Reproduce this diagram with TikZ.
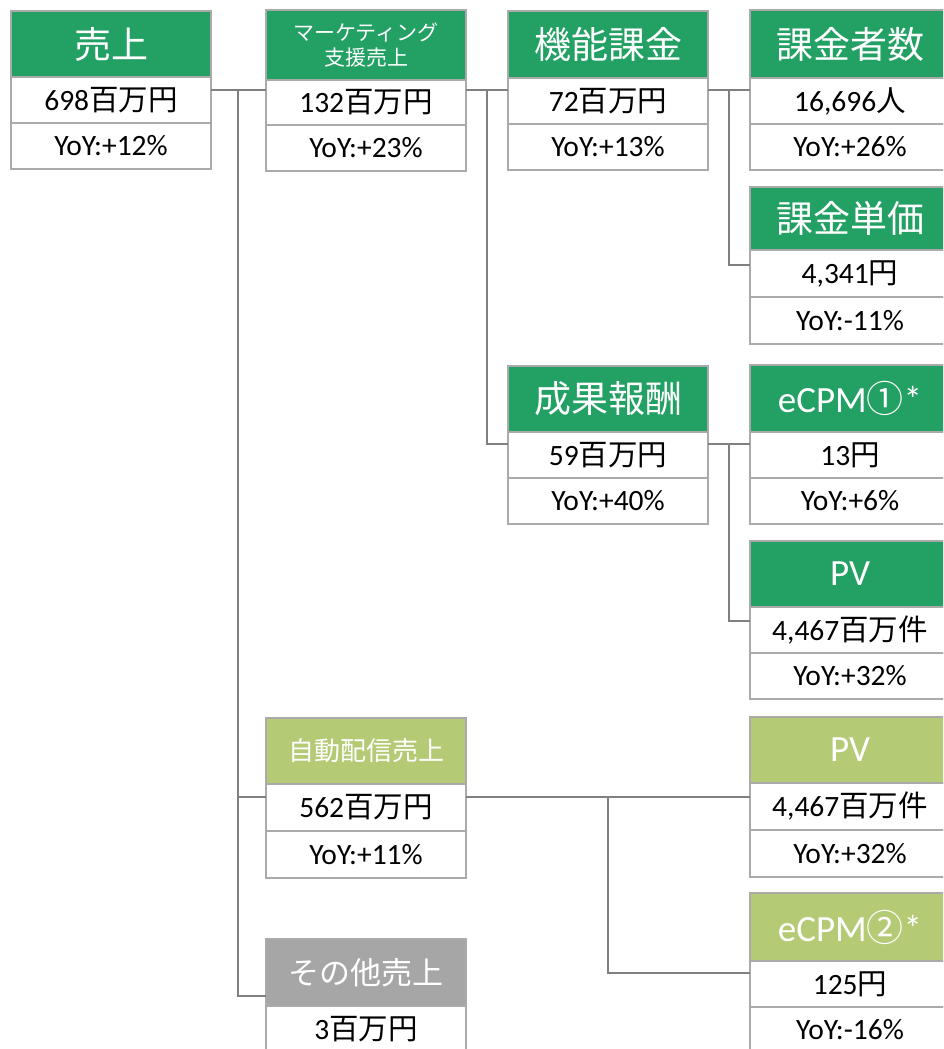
\documentclass[tikz,border=0pt]{standalone}
\usepackage{fontspec}
\setmainfont{Carlito}
\newfontfamily\cjk{Noto Sans CJK JP}
\definecolor{dkgreen}{RGB}{35,160,99}
\definecolor{ltgreen}{RGB}{181,202,117}
\definecolor{hdgray}{RGB}{166,166,166}
\definecolor{bordergray}{RGB}{170,170,170}
\definecolor{linegray}{RGB}{128,128,128}
\tikzset{
  cell/.style={draw=bordergray, line width=2.5pt, minimum width=200pt, inner sep=0pt, outer sep=0pt, anchor=north west, align=center},
  head/.style={cell, text=white, font=\fontsize{37}{40}\selectfont},
  rowcell/.style={cell, fill=white, minimum height=46pt, font=\fontsize{29.5}{31}\selectfont},
  link/.style={draw=linegray, line width=2pt},
}
\begin{document}
\begin{tikzpicture}[x=1pt,y=-1pt]
\clip (0,0) rectangle (943,1049);
\fill[white] (0,0) rectangle (943,1049);
% box 1
\node[head, fill=dkgreen, minimum height=66pt] (h1) at (11,11) {\cjk 売上};
\node[rowcell] (v1) at (h1.south west) {698{\cjk 百万円}};
\node[rowcell] (p1) at (v1.south west) {YoY:+12\%};
% box 2
\node[head, fill=dkgreen, minimum height=70pt, font=\fontsize{21}{25}\selectfont] (h2) at (266,10) {\cjk マーケティング\\\cjk 支援売上};
\node[rowcell, minimum height=45pt] (v2) at (h2.south west) {132{\cjk 百万円}};
\node[rowcell] (p2) at (v2.south west) {YoY:+23\%};
% box 3
\node[head, fill=dkgreen, minimum height=67pt] (h3) at (508,11) {\cjk 機能課金};
\node[rowcell] (v3) at (h3.south west) {72{\cjk 百万円}};
\node[rowcell] (p3) at (v3.south west) {YoY:+13\%};
% box 4
\node[head, fill=dkgreen, minimum height=68pt] (h4) at (750,10) {\cjk 課金者数};
\node[rowcell] (v4) at (h4.south west) {16,696{\cjk 人}};
\node[rowcell] (p4) at (v4.south west) {YoY:+26\%};
% box 5
\node[head, fill=dkgreen, minimum height=63pt] (h5) at (750,187) {\cjk 課金単価};
\node[rowcell, minimum height=47pt] (v5) at (h5.south west) {4,341{\cjk 円}};
\node[rowcell, minimum height=47pt] (p5) at (v5.south west) {YoY:-11\%};
% box 6
\node[head, fill=dkgreen, minimum height=66pt] (h6) at (508,366) {\cjk 成果報酬};
\node[rowcell] (v6) at (h6.south west) {59{\cjk 百万円}};
\node[rowcell] (p6) at (v6.south west) {YoY:+40\%};
% box 7
\node[head, fill=dkgreen, minimum height=67pt] (h7) at (750,365) {eCPM{\cjk ①}*};
\node[rowcell] (v7) at (h7.south west) {13{\cjk 円}};
\node[rowcell] (p7) at (v7.south west) {YoY:+6\%};
% box 8
\node[head, fill=dkgreen, minimum height=66pt] (h8) at (750,541) {PV};
\node[rowcell] (v8) at (h8.south west) {4,467{\cjk 百万件}};
\node[rowcell] (p8) at (v8.south west) {YoY:+32\%};
% box 9
\node[head, fill=ltgreen, minimum height=66pt, font=\fontsize{26}{30}\selectfont] (h9) at (266,718) {\cjk 自動配信売上};
\node[rowcell, minimum height=47pt] (v9) at (h9.south west) {562{\cjk 百万円}};
\node[rowcell, minimum height=47pt] (p9) at (v9.south west) {YoY:+11\%};
% box 10
\node[head, fill=hdgray, minimum height=67pt, font=\fontsize{31}{34}\selectfont] (h10) at (266,939) {\cjk その他売上};
\node[rowcell] (v10) at (h10.south west) {3{\cjk 百万円}};
% box 11
\node[head, fill=ltgreen, minimum height=66pt] (h11) at (750,717) {PV};
\node[rowcell, minimum height=47pt] (v11) at (h11.south west) {4,467{\cjk 百万件}};
\node[rowcell, minimum height=47pt] (p11) at (v11.south west) {YoY:+32\%};
% box 12
\node[head, fill=ltgreen, minimum height=68pt] (h12) at (750,893) {eCPM{\cjk ②}*};
\node[rowcell] (v12) at (h12.south west) {125{\cjk 円}};
\node[rowcell] (p12) at (v12.south west) {YoY:-16\%};
% helper coordinates
\coordinate (r90) at (0,90);
\coordinate (r265) at (0,265);
\coordinate (r444) at (0,444);
\coordinate (r621) at (0,621);
\coordinate (r797) at (0,797);
\coordinate (r973) at (0,973);
\coordinate (r996) at (0,996);
\coordinate (jA) at (238,0);
\coordinate (jB) at (487,0);
\coordinate (jC) at (729,0);
\coordinate (jD) at (608,0);
% connectors
\draw[link] (v1.east |- r90) -- (v2.west |- r90);
\draw[link] (jA |- r90) |- (h10.west |- r996);
\draw[link] (jA |- r797) -- (v9.west |- r797);
\draw[link] (v2.east |- r90) -- (v3.west |- r90);
\draw[link] (jB |- r90) |- (v6.west |- r444);
\draw[link] (v3.east |- r90) -- (v4.west |- r90);
\draw[link] (jC |- r90) |- (v5.west |- r265);
\draw[link] (v6.east |- r444) -- (v7.west |- r444);
\draw[link] (jC |- r444) |- (v8.west |- r621);
\draw[link] (v9.east |- r797) -- (v11.west |- r797);
\draw[link] (jD |- r797) |- (v12.west |- r973);
\end{tikzpicture}
\end{document}
